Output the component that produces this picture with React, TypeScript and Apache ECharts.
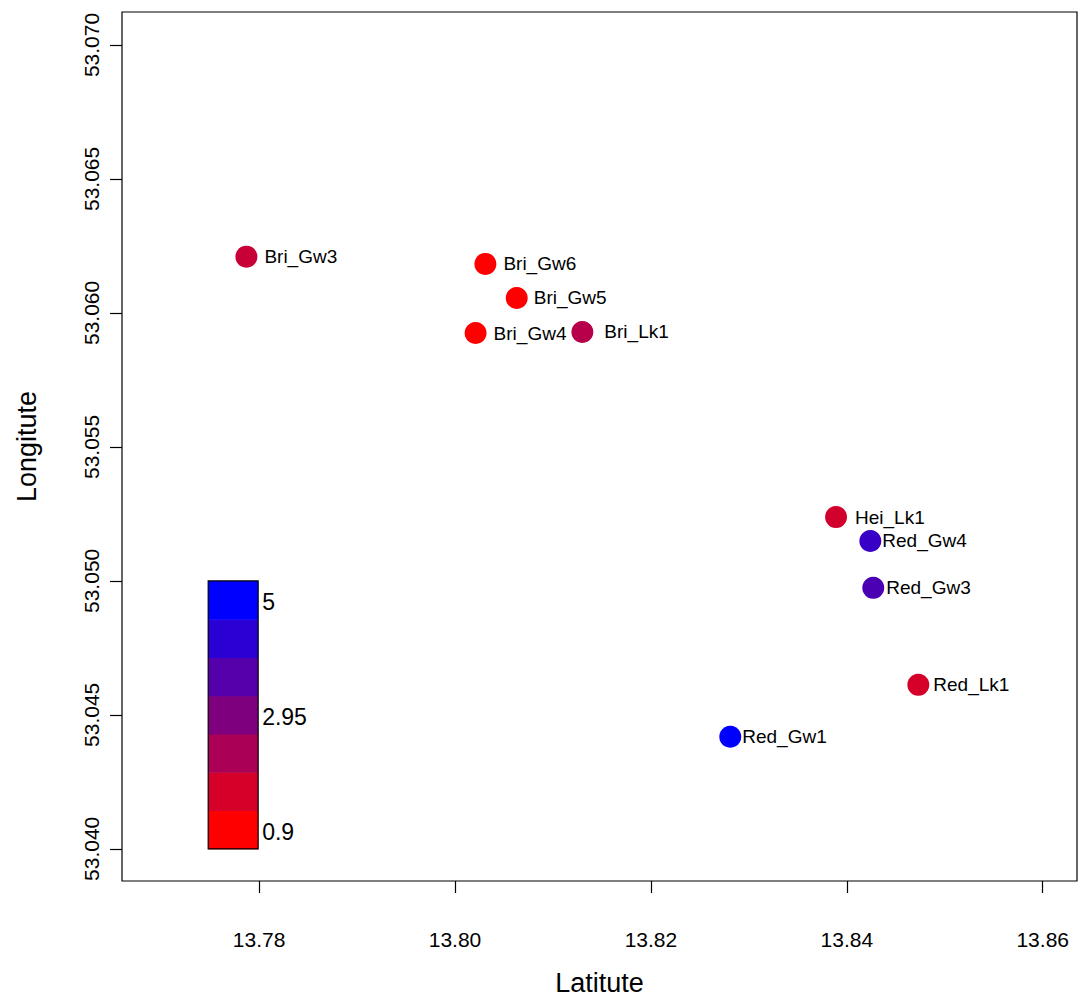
import React, { useEffect, useRef } from "react";
import * as echarts from "echarts";

// Sampling sites with their coordinates and measured value
const sites = ["Bri_Gw3", "Bri_Gw6", "Bri_Gw5", "Bri_Gw4", "Bri_Lk1", "Hei_Lk1", "Red_Gw4", "Red_Gw3", "Red_Lk1", "Red_Gw1"];
const latitude = [13.7787, 13.8031, 13.8063, 13.8021, 13.8130, 13.8389, 13.8424, 13.8427, 13.8473, 13.8281];
const longitude = [53.0621, 53.06183, 53.06056, 53.05925, 53.05929, 53.05238, 53.05149, 53.04974, 53.04612, 53.04418];
const values = [1.8, 0.9, 0.9, 0.9, 2.07, 1.62, 4.1, 3.77, 1.58, 5.0];

// Colour scale
const valueMin = 0.9;
const valueMax = 5;
const legendColors = ["#FF0000", "#D4002A", "#AA0055", "#7F007F", "#5500AA", "#2A00D4", "#0000FF"];
const legendLabels = ["0.9", "2.95", "5"];

// Axis ticks
const xTicks = [13.78, 13.8, 13.82, 13.84, 13.86];
const yTicks = [53.04, 53.045, 53.05, 53.055, 53.06, 53.065, 53.07];

// gap between each dot and its label
const labelGap: Record<string, number> = {
  Bri_Gw3: 7, Bri_Gw6: 7, Bri_Gw5: 6, Bri_Gw4: 7, Bri_Lk1: 11,
  Hei_Lk1: 8, Red_Gw4: 1, Red_Gw3: 2, Red_Lk1: 4, Red_Gw1: 1,
};

const FONT = "'Liberation Sans', Arial, sans-serif";

export default function App() {
  const ref = useRef<HTMLDivElement>(null);

  useEffect(() => {
    if (!ref.current) return;
    const chart = echarts.init(ref.current, undefined, { renderer: "svg" });

    const points = sites.map((s, i) => ({
      name: s,
      value: [latitude[i], longitude[i], values[i]],
      label: { distance: labelGap[s] },
    }));

    // colour key box in data coordinates
    const keyX = [13.7748, 13.7799];
    const keyY = [53.04, 53.05];

    const option: echarts.EChartsOption = {
      animation: false,
      backgroundColor: "#ffffff",
      grid: {
        left: 122, top: 12, right: 2, bottom: 119,
        show: true, borderColor: "#000", borderWidth: 1.2, backgroundColor: "transparent",
      },
      xAxis: {
        type: "value",
        min: 13.766,
        max: 13.8635,
        name: "Latitute",
        nameLocation: "middle",
        nameGap: 88,
        nameTextStyle: { fontFamily: FONT, fontSize: 27, color: "#000" },
        axisLine: { show: false },
        splitLine: { show: false },
        axisTick: { show: true, length: 12, lineStyle: { color: "#000", width: 1.2 }, customValues: xTicks },
        axisLabel: {
          customValues: xTicks,
          formatter: (v: number) => v.toFixed(2),
          fontFamily: FONT, fontSize: 21, color: "#000", margin: 48,
        },
      },
      yAxis: {
        type: "value",
        min: 53.0388,
        max: 53.07123,
        name: "Longitute",
        nameLocation: "middle",
        nameRotate: 90,
        nameGap: 82,
        nameTextStyle: { fontFamily: FONT, fontSize: 27, color: "#000" },
        axisLine: { show: false },
        splitLine: { show: false },
        axisTick: { show: true, length: 12, lineStyle: { color: "#000", width: 1.2 }, customValues: yTicks },
        axisLabel: {
          customValues: yTicks,
          rotate: 90,
          formatter: (v: number) => v.toFixed(3),
          fontFamily: FONT, fontSize: 21, color: "#000", margin: 20,
        },
      },
      visualMap: {
        show: false,
        type: "continuous",
        seriesIndex: 0,
        dimension: 2,
        min: valueMin,
        max: valueMax,
        inRange: { color: ["#ff0000", "#0000ff"] },
      },
      series: [
        {
          type: "scatter",
          symbol: "circle",
          symbolSize: 22,
          data: points,
          itemStyle: { opacity: 1 },
          label: {
            show: true,
            position: "right",
            formatter: (p: any) => p.name,
            fontFamily: FONT,
            fontSize: 19,
            color: "#000",
          },
        },
        {
          type: "custom",
          silent: true,
          data: [0],
          renderItem: (params: any, api: any) => {
            const n = legendColors.length;
            const children: any[] = [];
            const step = (keyY[1] - keyY[0]) / n;
            legendColors.forEach((c, i) => {
              const p0 = api.coord([keyX[0], keyY[0] + step * (i + 1)]);
              const p1 = api.coord([keyX[1], keyY[0] + step * i]);
              children.push({
                type: "rect",
                shape: { x: p0[0], y: p0[1], width: p1[0] - p0[0], height: p1[1] - p0[1] + 0.5 },
                style: { fill: c },
              });
            });
            const a = api.coord([keyX[0], keyY[1]]);
            const b = api.coord([keyX[1], keyY[0]]);
            children.push({
              type: "rect",
              shape: { x: a[0], y: a[1], width: b[0] - a[0], height: b[1] - a[1] },
              style: { fill: "none", stroke: "#000", lineWidth: 1.2 },
            });
            // labels at bottom, middle and top blocks
            const labelBlocks = [0, Math.floor(n / 2), n - 1];
            legendLabels.forEach((t, k) => {
              const c = api.coord([keyX[1], keyY[0] + step * (labelBlocks[k] + 0.5)]);
              children.push({
                type: "text",
                x: c[0] + 4,
                y: c[1] + 2,
                style: { text: t, fontFamily: FONT, fontSize: 23, fill: "#000", align: "left", verticalAlign: "middle" },
              });
            });
            return { type: "group", children };
          },
        },
      ],
    };

    chart.setOption(option);
    return () => chart.dispose();
  }, []);

  return (
    <div
      ref={ref}
      style={{ position: "fixed", left: 0, top: 0, width: 1079, height: 1001, background: "#fff" }}
    />
  );
}
